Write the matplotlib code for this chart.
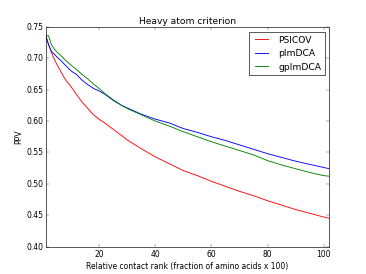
import numpy as np
import matplotlib
matplotlib.use('Agg')
import matplotlib.pyplot as plt

plt.style.use('classic')

# relative contact rank (fraction of amino acids x 100)
rank = [1, 2, 3, 4, 5, 6, 8, 10, 12, 14, 16, 18, 20, 22, 25, 28, 30, 35, 40,
        45, 50, 55, 60, 65, 70, 75, 80, 85, 90, 95, 100, 102]

psicov = [0.737, 0.722, 0.710, 0.699, 0.690, 0.682, 0.666, 0.655, 0.642, 0.630,
          0.620, 0.610, 0.603, 0.597, 0.587, 0.577, 0.570, 0.556, 0.543, 0.532,
          0.521, 0.513, 0.504, 0.496, 0.488, 0.481, 0.473, 0.466, 0.459, 0.453,
          0.447, 0.445]

plmdca = [0.735, 0.722, 0.711, 0.707, 0.702, 0.698, 0.689, 0.680, 0.674, 0.665,
          0.658, 0.652, 0.648, 0.643, 0.633, 0.625, 0.621, 0.611, 0.603, 0.597,
          0.588, 0.582, 0.575, 0.569, 0.562, 0.555, 0.548, 0.542, 0.536, 0.531,
          0.526, 0.524]

gplmdca = [0.736, 0.736, 0.722, 0.715, 0.710, 0.706, 0.697, 0.689, 0.682, 0.674,
           0.667, 0.659, 0.652, 0.644, 0.634, 0.625, 0.620, 0.610, 0.600, 0.592,
           0.583, 0.575, 0.567, 0.560, 0.553, 0.546, 0.537, 0.530, 0.524, 0.518,
           0.513, 0.512]

fig = plt.figure(figsize=(8, 6), dpi=45.75, facecolor='white')
ax = fig.add_subplot(111)

ax.plot(rank, psicov, color='r', lw=1.4, label='PSICOV')
ax.plot(rank, plmdca, color='b', lw=1.4, label='plmDCA')
ax.plot(rank, gplmdca, color='g', lw=1.4, label='gplmDCA')

ax.set_xlim(1, 102)
ax.set_ylim(0.40, 0.75)
ax.set_xticks([20, 40, 60, 80, 100])
ax.set_yticks(np.arange(0.40, 0.751, 0.05))
ax.yaxis.set_major_formatter(matplotlib.ticker.FormatStrFormatter('%.2f'))

ax.set_title('Heavy atom criterion')
ax.set_xlabel('Relative contact rank (fraction of amino acids x 100)')
ax.set_ylabel('PPV')
ax.legend(loc='upper right')

fig.savefig('out.png', dpi=45.75, facecolor='white')
